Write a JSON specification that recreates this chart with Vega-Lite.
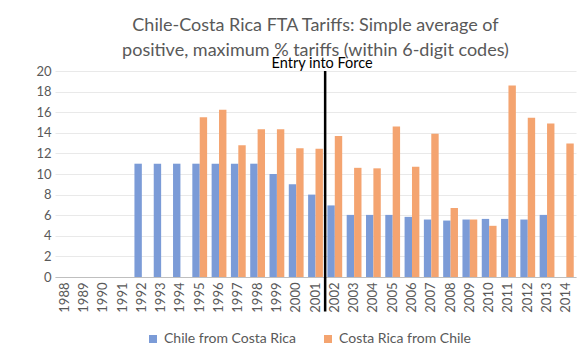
{
  "$schema": "https://vega.github.io/schema/vega-lite/v6.json",
  "width": 521,
  "height": 206,
  "autosize": {"type": "none"},
  "padding": {"left": 55, "top": 71, "right": 4, "bottom": 72},
  "background": "white",
  "config": {
    "view": {"stroke": null},
    "font": "Lato"
  },
  "title": {
    "text": ["Chile-Costa Rica FTA Tariffs:  Simple average of", "positive, maximum % tariffs (within 6-digit codes)"],
    "anchor": "middle",
    "frame": "group",
    "font": "Lato",
    "fontSize": 18,
    "fontWeight": "normal",
    "color": "#595959",
    "lineHeight": 25,
    "offset": -4
  },
  "layer": [
    {
      "data": {
        "values": [
          {"year": "1992", "series": "Chile from Costa Rica", "value": 11},
          {"year": "1993", "series": "Chile from Costa Rica", "value": 11},
          {"year": "1994", "series": "Chile from Costa Rica", "value": 11},
          {"year": "1995", "series": "Chile from Costa Rica", "value": 11},
          {"year": "1996", "series": "Chile from Costa Rica", "value": 11},
          {"year": "1997", "series": "Chile from Costa Rica", "value": 11},
          {"year": "1998", "series": "Chile from Costa Rica", "value": 11},
          {"year": "1999", "series": "Chile from Costa Rica", "value": 10},
          {"year": "2000", "series": "Chile from Costa Rica", "value": 9},
          {"year": "2001", "series": "Chile from Costa Rica", "value": 8},
          {"year": "2002", "series": "Chile from Costa Rica", "value": 6.95},
          {"year": "2003", "series": "Chile from Costa Rica", "value": 6.03},
          {"year": "2004", "series": "Chile from Costa Rica", "value": 6.03},
          {"year": "2005", "series": "Chile from Costa Rica", "value": 6.03},
          {"year": "2006", "series": "Chile from Costa Rica", "value": 5.84},
          {"year": "2007", "series": "Chile from Costa Rica", "value": 5.58},
          {"year": "2008", "series": "Chile from Costa Rica", "value": 5.48},
          {"year": "2009", "series": "Chile from Costa Rica", "value": 5.58},
          {"year": "2010", "series": "Chile from Costa Rica", "value": 5.64},
          {"year": "2011", "series": "Chile from Costa Rica", "value": 5.64},
          {"year": "2012", "series": "Chile from Costa Rica", "value": 5.58},
          {"year": "2013", "series": "Chile from Costa Rica", "value": 6.03},
          {"year": "1995", "series": "Costa Rica from Chile", "value": 15.5},
          {"year": "1996", "series": "Costa Rica from Chile", "value": 16.25},
          {"year": "1997", "series": "Costa Rica from Chile", "value": 12.8},
          {"year": "1998", "series": "Costa Rica from Chile", "value": 14.35},
          {"year": "1999", "series": "Costa Rica from Chile", "value": 14.35},
          {"year": "2000", "series": "Costa Rica from Chile", "value": 12.5},
          {"year": "2001", "series": "Costa Rica from Chile", "value": 12.45},
          {"year": "2002", "series": "Costa Rica from Chile", "value": 13.7},
          {"year": "2003", "series": "Costa Rica from Chile", "value": 10.6},
          {"year": "2004", "series": "Costa Rica from Chile", "value": 10.55},
          {"year": "2005", "series": "Costa Rica from Chile", "value": 14.6},
          {"year": "2006", "series": "Costa Rica from Chile", "value": 10.7},
          {"year": "2007", "series": "Costa Rica from Chile", "value": 13.9},
          {"year": "2008", "series": "Costa Rica from Chile", "value": 6.7},
          {"year": "2009", "series": "Costa Rica from Chile", "value": 5.58},
          {"year": "2010", "series": "Costa Rica from Chile", "value": 4.97},
          {"year": "2011", "series": "Costa Rica from Chile", "value": 18.6},
          {"year": "2012", "series": "Costa Rica from Chile", "value": 15.45},
          {"year": "2013", "series": "Costa Rica from Chile", "value": 14.9},
          {"year": "2014", "series": "Costa Rica from Chile", "value": 12.95}
        ]
      },
      "mark": {"type": "bar"},
      "encoding": {
        "x": {
          "field": "year",
          "type": "nominal",
          "scale": {
            "domain": ["1988","1989","1990","1991","1992","1993","1994","1995","1996","1997","1998","1999","2000","2001","2002","2003","2004","2005","2006","2007","2008","2009","2010","2011","2012","2013","2014"],
            "paddingInner": 0.233,
            "paddingOuter": 0.117
          },
          "axis": {
            "title": null,
            "labelAngle": -90,
            "labelFontSize": 13,
            "labelColor": "#595959",
            "labelPadding": 5,
            "ticks": false,
            "domainColor": "#bfbfbf",
            "grid": false
          }
        },
        "xOffset": {
          "field": "series",
          "type": "nominal",
          "sort": ["Chile from Costa Rica", "Costa Rica from Chile"],
          "scale": {"paddingInner": 0, "paddingOuter": 0}
        },
        "y": {
          "field": "value",
          "type": "quantitative",
          "scale": {"domain": [0, 20], "nice": false},
          "axis": {
            "title": null,
            "values": [0,2,4,6,8,10,12,14,16,18,20],
            "labelOverlap": false,
            "labelFontSize": 13,
            "labelColor": "#595959",
            "labelPadding": 4,
            "ticks": false,
            "domain": false,
            "gridColor": "#e9e9e9"
          }
        },
        "color": {
          "field": "series",
          "type": "nominal",
          "scale": {"domain": ["Chile from Costa Rica", "Costa Rica from Chile"], "range": ["#7b9bd7", "#f4a470"]},
          "legend": {
            "title": null,
            "orient": "none",
            "legendX": 91,
            "legendY": 261,
            "direction": "horizontal",
            "symbolType": "square",
            "symbolSize": 64,
            "symbolStrokeWidth": 0,
            "labelFontSize": 14,
            "labelOffset": 4,
            "labelColor": "#595959",
            "columnPadding": 24
          }
        }
      }
    },
    {
      "data": {"values": [{"year": "2002", "label": "Entry into Force"}]},
      "mark": {"type": "rule", "color": "black", "strokeWidth": 2.5},
      "encoding": {
        "x": {"field": "year", "type": "nominal", "bandPosition": -0.152},
        "y": {
          "datum": 20,
          "type": "quantitative",
          "axis": {
            "title": null,
            "values": [0,2,4,6,8,10,12,14,16,18,20],
            "labelOverlap": false,
            "labelFontSize": 13,
            "labelColor": "#595959",
            "labelPadding": 4,
            "ticks": false,
            "domain": false,
            "gridColor": "#e9e9e9"
          }
        },
        "y2": {"datum": -3.35}
      }
    },
    {
      "data": {"values": [{"year": "2002", "label": "Entry into Force"}]},
      "mark": {"type": "text", "color": "black", "fontSize": 14.5, "font": "Lato", "baseline": "alphabetic", "align": "center", "dy": -3, "dx": -3},
      "encoding": {
        "x": {"field": "year", "type": "nominal", "bandPosition": -0.152},
        "y": {
          "datum": 20,
          "type": "quantitative",
          "axis": {
            "title": null,
            "values": [0,2,4,6,8,10,12,14,16,18,20],
            "labelOverlap": false,
            "labelFontSize": 13,
            "labelColor": "#595959",
            "labelPadding": 4,
            "ticks": false,
            "domain": false,
            "gridColor": "#e9e9e9"
          }
        },
        "text": {"field": "label"}
      }
    }
  ]
}
